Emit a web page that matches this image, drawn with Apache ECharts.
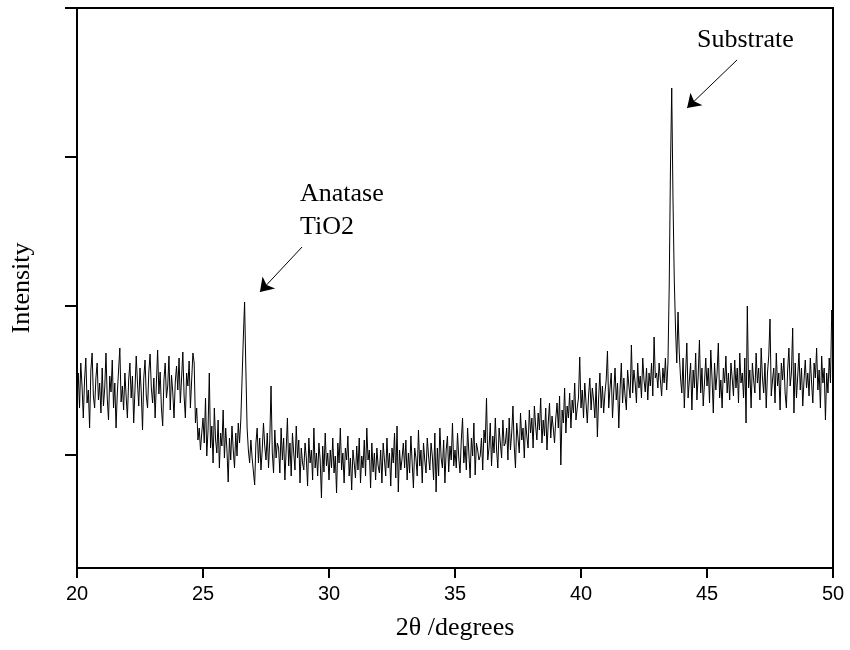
<!DOCTYPE html>
<html>
<head>
<meta charset="utf-8">
<script src="https://cdn.jsdelivr.net/npm/echarts@6/dist/echarts.min.js"></script>
<style>html,body{margin:0;padding:0;background:#fff}#c{width:850px;height:650px}</style>
</head>
<body>
<div id="c"></div>
<script>
// 2theta grid: start, step (degrees)
const thetaStart = 20;
const thetaStep = 0.05;
// intensity values (arbitrary units), one row per degree
const intensity = [
// 20
170,195,160,205,182,150,188,210,165,178,140,198,215,172,160,190,205,168,185,155,
// 21
200,162,180,215,170,148,192,176,208,160,185,140,175,198,220,166,182,158,195,172,
// 22
150,188,205,170,192,145,178,212,185,162,200,176,138,190,208,172,160,196,214,180,
// 23
165,190,150,185,218,174,196,160,142,188,205,170,182,212,158,193,176,150,186,202,
// 24
178,210,165,190,216,172,150,195,182,207,160,188,215,205,145,160,128,140,118,135,
// 25
150,125,170,112,138,195,120,142,105,160,128,115,148,100,135,122,158,110,140,118,
// 26
86,130,108,142,118,100,135,112,145,125,148,150,230,266,200,140,118,105,128,110,
// 27
112,83,125,140,105,130,98,118,145,122,108,135,100,128,182,115,95,138,110,125,
// 28
120,95,140,108,130,88,118,150,102,125,92,135,115,98,142,110,128,85,120,105,
// 29
98,125,110,82,130,105,118,88,140,100,115,92,125,108,70,122,96,135,102,115,
// 30
88,118,100,130,95,112,75,125,105,140,98,115,85,120,108,132,92,110,78,118,
// 31
105,90,122,98,130,85,112,100,128,92,140,108,118,80,125,96,115,88,120,102,
// 32
95,118,85,125,108,92,130,100,115,82,120,105,135,90,142,76,118,98,110,125,
// 33
100,128,88,115,95,132,105,80,120,110,92,138,102,118,85,125,108,95,130,112,
// 34
98,125,112,88,135,76,120,92,140,110,100,128,85,118,132,96,122,108,145,102,
// 35
118,100,135,110,95,128,150,105,122,98,140,115,90,130,112,145,93,125,118,108,
// 36
112,130,98,138,125,170,108,120,145,102,132,115,150,118,100,140,125,110,148,122,
// 37
125,140,108,150,118,135,162,122,100,145,130,115,155,128,140,110,148,132,120,158,
// 38
135,150,120,162,142,128,155,138,170,125,148,132,160,118,145,165,130,152,140,125,
// 39
150,165,140,172,103,158,145,180,135,162,150,175,140,168,155,185,148,160,170,211,
// 40
160,178,150,185,165,145,172,190,158,180,168,150,185,131,170,195,160,182,155,175,
// 41
188,217,160,180,195,150,176,200,168,185,140,178,205,165,190,172,158,198,182,170,
// 42
223,175,198,185,165,205,180,192,170,210,188,176,200,168,195,182,205,172,231,190,
// 43
195,180,205,188,172,200,185,210,178,205,280,400,480,370,290,240,205,256,215,190,
// 44
175,210,160,195,225,170,188,205,158,198,180,215,168,192,228,175,200,162,185,210,
// 45
182,200,165,218,190,155,205,178,195,225,170,188,160,200,185,212,175,195,168,205,
// 46
190,172,208,180,200,165,215,185,195,170,210,145,262,180,198,160,205,188,175,215,
// 47
185,200,168,220,190,175,205,160,195,212,249,172,188,200,165,215,182,195,158,205,
// 48
188,210,175,160,198,220,182,195,240,155,205,170,192,215,178,200,162,188,208,180,
// 49
195,172,210,185,165,205,190,220,178,198,160,212,185,200,148,195,175,210,185,258,
// 50
240
];
const xTicks = [20, 25, 30, 35, 40, 45, 50];
const yTickValues = [113, 262, 411, 560];
const annotations = ['Substrate', 'Anatase', 'TiO2'];
const substrateArrow = [[46.19, 508], [44.21, 460]];
const anataseArrow = [[28.93, 321], [27.26, 276]];

const seriesData = intensity.map((v, i) => [+(thetaStart + i * thetaStep).toFixed(2), v]);

const serif = '"Liberation Serif", "Times New Roman", serif';
const sans = '"Liberation Sans", Arial, sans-serif';

const chart = echarts.init(document.getElementById('c'), null, {renderer: 'canvas'});
chart.setOption({
  animation: false,
  backgroundColor: '#fff',
  grid: {left: 77, right: 17, top: 8, bottom: 82, show: true, borderColor: '#000', borderWidth: 2, backgroundColor: 'transparent'},
  xAxis: {
    type: 'value', min: xTicks[0], max: xTicks[xTicks.length - 1], interval: 5,
    name: '2θ /degrees', nameLocation: 'middle', nameGap: 47,
    nameTextStyle: {fontFamily: serif, fontSize: 26, color: '#000'},
    axisLine: {show: true, lineStyle: {color: '#000', width: 2}},
    axisTick: {show: true, inside: false, length: 10, lineStyle: {color: '#000', width: 2}},
    axisLabel: {fontFamily: sans, fontSize: 20, color: '#000', margin: 16},
    splitLine: {show: false}
  },
  yAxis: {
    type: 'value', min: 0, max: 560,
    name: 'Intensity', nameLocation: 'middle', nameGap: 42, nameRotate: 90,
    nameTextStyle: {fontFamily: serif, fontSize: 26, color: '#000'},
    axisLine: {show: true, lineStyle: {color: '#000', width: 2}},
    axisTick: {show: true, inside: false, length: 12, customValues: yTickValues, lineStyle: {color: '#000', width: 2}},
    axisLabel: {show: false},
    splitLine: {show: false}
  },
  series: [{
    type: 'line',
    data: seriesData,
    showSymbol: false,
    symbol: 'none',
    lineStyle: {color: '#000', width: 1},
    markLine: {
      silent: true,
      symbol: ['none', 'arrow'],
      symbolSize: 13,
      label: {show: false},
      lineStyle: {color: '#000', width: 1, type: 'solid'},
      data: [
        [{coord: substrateArrow[0]}, {coord: substrateArrow[1]}],
        [{coord: anataseArrow[0]}, {coord: anataseArrow[1]}]
      ]
    }
  }],
  graphic: [
    {type: 'text', left: 697, top: 27, style: {text: annotations[0], font: '26px ' + serif, fill: '#000'}},
    {type: 'text', left: 300, top: 181, style: {text: annotations[1], font: '26px ' + serif, fill: '#000'}},
    {type: 'text', left: 300, top: 214, style: {text: annotations[2], font: '26px ' + serif, fill: '#000'}}
  ]
});
</script>
</body>
</html>
